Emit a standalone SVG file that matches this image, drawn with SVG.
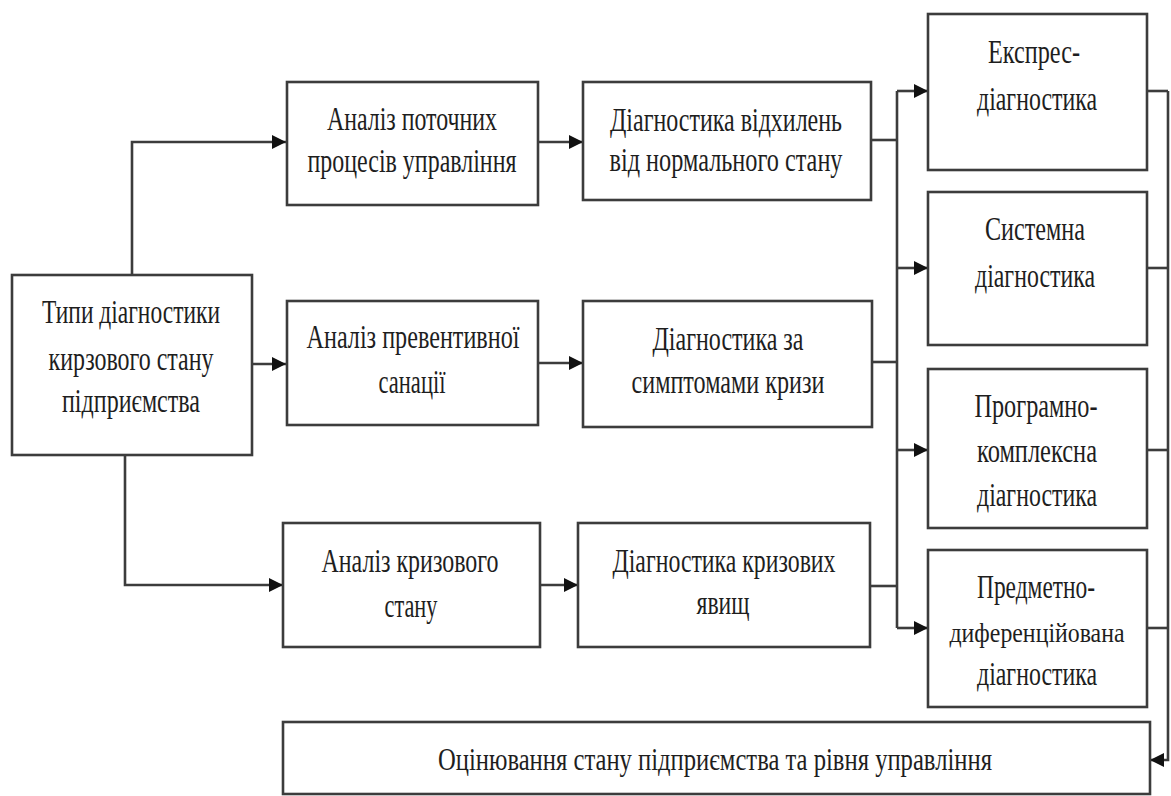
<svg xmlns="http://www.w3.org/2000/svg" width="1171" height="796" viewBox="0 0 1171 796">
<style>
.box{fill:#fff;stroke:#3c3c3c;stroke-width:2.6}
.ln{fill:none;stroke:#3c3c3c;stroke-width:2.6}
text{font-family:"Liberation Serif","Times New Roman",serif;font-size:34px;fill:#1e1e1e;text-anchor:middle}
.sm{font-size:31px}
.xs{font-size:28px}
</style>
<defs>
<marker id="ah" markerWidth="14" markerHeight="14" refX="14" refY="7" orient="auto" markerUnits="userSpaceOnUse">
<path d="M0,0 L14,7 L0,14 Z" fill="#111"/>
</marker>
</defs>
<rect width="1171" height="796" fill="#fff"/>
<g id="connectors">
<path class="ln" d="M132,275 V142 H286" marker-end="url(#ah)"/>
<path class="ln" d="M252,364 H286" marker-end="url(#ah)"/>
<path class="ln" d="M125,455 V585 H283" marker-end="url(#ah)"/>
<path class="ln" d="M538,142 H583" marker-end="url(#ah)"/>
<path class="ln" d="M538,363 H583" marker-end="url(#ah)"/>
<path class="ln" d="M540,585 H578" marker-end="url(#ah)"/>
<path class="ln" d="M871,140 H897"/>
<path class="ln" d="M872,362 H897"/>
<path class="ln" d="M870,586 H897"/>
<path class="ln" d="M897,91 V628"/>
<path class="ln" d="M897,91 H928" marker-end="url(#ah)"/>
<path class="ln" d="M897,268 H928" marker-end="url(#ah)"/>
<path class="ln" d="M897,450 H928" marker-end="url(#ah)"/>
<path class="ln" d="M897,628 H928" marker-end="url(#ah)"/>
<path class="ln" d="M1147,91 H1168"/>
<path class="ln" d="M1147,268 H1168"/>
<path class="ln" d="M1147,450 H1168"/>
<path class="ln" d="M1147,628 H1168"/>
<path class="ln" d="M1168,91 V760 H1150" marker-end="url(#ah)"/>
</g>
<g id="main">
<rect class="box" x="12" y="275" width="240" height="180"/>
<text x="131" y="323" textLength="178" lengthAdjust="spacingAndGlyphs">Типи діагностики</text>
<text x="131" y="370" textLength="165" lengthAdjust="spacingAndGlyphs">кирзового стану</text>
<text x="131" y="412" textLength="138" lengthAdjust="spacingAndGlyphs">підприємства</text>
</g>
<g id="a1">
<rect class="box" x="287" y="82" width="251" height="123"/>
<text x="412" y="130" textLength="170" lengthAdjust="spacingAndGlyphs">Аналіз поточних</text>
<text x="412" y="172" textLength="209" lengthAdjust="spacingAndGlyphs">процесів управління</text>
</g>
<g id="d1">
<rect class="box" x="583" y="82" width="288" height="118"/>
<text x="726" y="131" textLength="232" lengthAdjust="spacingAndGlyphs">Діагностика відхилень</text>
<text x="726" y="171" textLength="233" lengthAdjust="spacingAndGlyphs">від нормального стану</text>
</g>
<g id="a2">
<rect class="box" x="287" y="301" width="251" height="124"/>
<text x="413" y="348" textLength="213" lengthAdjust="spacingAndGlyphs">Аналіз превентивної</text>
<text x="412" y="393" textLength="67" lengthAdjust="spacingAndGlyphs">санації</text>
</g>
<g id="d2">
<rect class="box" x="583" y="301" width="289" height="126"/>
<text x="728" y="350" textLength="151" lengthAdjust="spacingAndGlyphs">Діагностика за</text>
<text x="728" y="393" textLength="193" lengthAdjust="spacingAndGlyphs">симптомами кризи</text>
</g>
<g id="a3">
<rect class="box" x="283" y="523" width="257" height="124"/>
<text x="410" y="572" textLength="177" lengthAdjust="spacingAndGlyphs">Аналіз кризового</text>
<text x="411" y="617" textLength="53" lengthAdjust="spacingAndGlyphs">стану</text>
</g>
<g id="d3">
<rect class="box" x="578" y="523" width="292" height="124"/>
<text x="724" y="572" textLength="223" lengthAdjust="spacingAndGlyphs">Діагностика кризових</text>
<text x="723" y="614" textLength="53" lengthAdjust="spacingAndGlyphs">явищ</text>
</g>
<g id="e1">
<rect class="box" x="928" y="14" width="219" height="156"/>
<text x="1034" y="63" textLength="92" lengthAdjust="spacingAndGlyphs">Експрес-</text>
<text x="1037" y="110" textLength="120" lengthAdjust="spacingAndGlyphs">діагностика</text>
</g>
<g id="e2">
<rect class="box" x="928" y="192" width="219" height="153"/>
<text x="1035" y="240" textLength="100" lengthAdjust="spacingAndGlyphs">Системна</text>
<text x="1035" y="287" textLength="120" lengthAdjust="spacingAndGlyphs">діагностика</text>
</g>
<g id="e3">
<rect class="box" x="928" y="369" width="219" height="159"/>
<text x="1036" y="417" textLength="123" lengthAdjust="spacingAndGlyphs">Програмно-</text>
<text x="1037" y="462" textLength="120" lengthAdjust="spacingAndGlyphs">комплексна</text>
<text x="1037" y="506" textLength="120" lengthAdjust="spacingAndGlyphs">діагностика</text>
</g>
<g id="e4">
<rect class="box" x="928" y="550" width="219" height="157"/>
<text x="1036" y="598" textLength="118" lengthAdjust="spacingAndGlyphs">Предметно-</text>
<text class="xs" x="1037" y="642" textLength="175" lengthAdjust="spacingAndGlyphs">диференційована</text>
<text x="1037" y="685" textLength="120" lengthAdjust="spacingAndGlyphs">діагностика</text>
</g>
<g id="bottom">
<rect class="box" x="283" y="722" width="867" height="72"/>
<text class="sm" x="715" y="770" textLength="554" lengthAdjust="spacingAndGlyphs">Оцінювання стану  підприємства та рівня управління</text>
</g>
</svg>
